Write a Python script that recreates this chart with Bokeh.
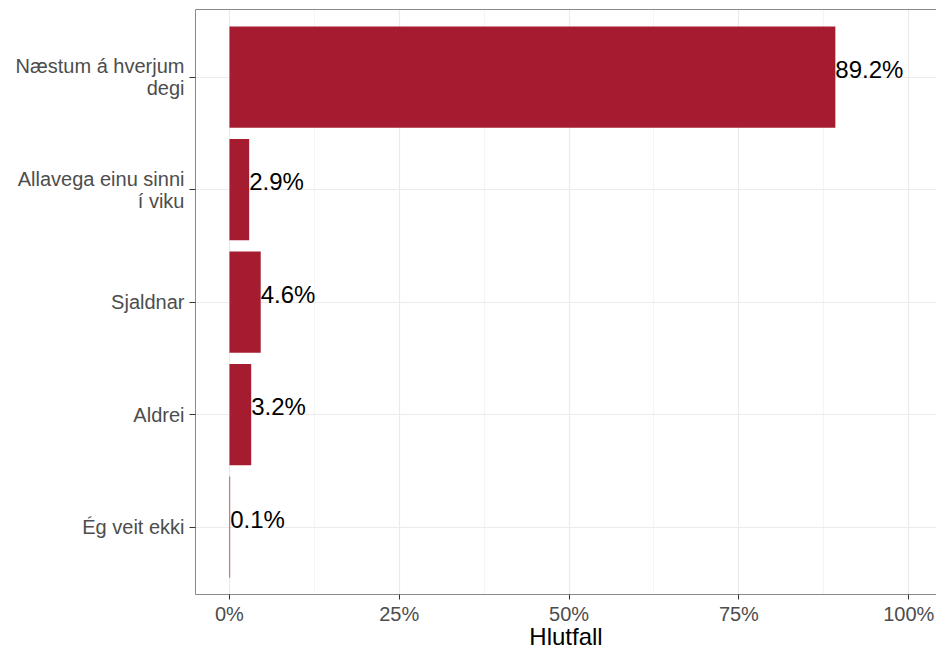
from bokeh.plotting import figure
from bokeh.models import FactorRange, Range1d, FixedTicker, LinearAxis, ColumnDataSource
from bokeh.embed import file_html
from bokeh.resources import INLINE

# data (top to bottom)
categories = ["Næstum á hverjum\ndegi", "Allavega einu sinni\ní viku", "Sjaldnar", "Aldrei", "Ég veit ekki"]
values = [89.2, 2.9, 4.6, 3.2, 0.1]
labels = ["89.2%", "2.9%", "4.6%", "3.2%", "0.1%"]
x_ticks = [0, 25, 50, 75, 100]
x_tick_labels = ["0%", "25%", "50%", "75%", "100%"]
x_minor = [12.5, 37.5, 62.5, 87.5]

FONT = "Liberation Sans"
BAR = "#A51C30"

factors = list(reversed(categories))
src = ColumnDataSource(dict(cat=categories, val=values, lab=labels))

p = figure(width=936, height=652, output_backend="svg", toolbar_location=None,
           y_range=FactorRange(factors=factors, range_padding=0.1, range_padding_units="absolute"),
           x_range=Range1d(-5, 104.09),
           min_border_left=195, min_border_right=0, min_border_top=9, min_border_bottom=0)
p.outline_line_color = None
p.background_fill_color = "white"
p.border_fill_color = "white"

p.hbar(y="cat", right="val", left=0, height=0.9, source=src, fill_color=BAR, line_color=None)
p.text(x="val", y="cat", text="lab", source=src, text_align="left", text_baseline="alphabetic",
       y_offset=-8, text_font_size="24px", text_color="black", text_font={"value": FONT})

# x axis
xa = p.xaxis[0]
xa.ticker = FixedTicker(ticks=x_ticks, minor_ticks=x_minor)
xa.major_label_overrides = {t: l for t, l in zip(x_ticks, x_tick_labels)}
xa.axis_label = "Hlutfall"
xa.axis_label_text_font = FONT
xa.axis_label_text_font_size = "24px"
xa.axis_label_text_font_style = "normal"
xa.axis_label_text_color = "black"
xa.axis_label_text_line_height = 1.0
xa.axis_label_standoff = -5
xa.major_label_text_font = FONT
xa.major_label_text_font_size = "20px"
xa.major_label_text_color = "#4D4D4D"
xa.major_label_text_line_height = 1.0
xa.major_label_standoff = 3
xa.major_tick_out = 5
xa.major_tick_in = 0
xa.minor_tick_out = 0
xa.minor_tick_in = 0
xa.major_tick_line_color = "#333333"
xa.axis_line_color = "#8A8A8A"

# y axis
ya = p.yaxis[0]
ya.major_label_text_font = FONT
ya.major_label_text_font_size = "20px"
ya.major_label_text_color = "#4D4D4D"
ya.major_label_text_line_height = 1.0
ya.major_label_standoff = 5
ya.major_tick_out = 6
ya.major_tick_in = 0
ya.major_tick_line_color = "#333333"
ya.axis_line_color = "#8A8A8A"

# top border
top = LinearAxis(ticker=FixedTicker(ticks=[]), major_label_text_font_size="0px",
                 major_tick_out=0, major_tick_in=0, minor_tick_out=0, minor_tick_in=0,
                 major_label_standoff=0, axis_line_color="#8A8A8A")
p.add_layout(top, "above")

# grids
p.xgrid.grid_line_color = "#EBEBEB"
p.xgrid.grid_line_width = 1.2
p.xgrid.minor_grid_line_color = "#F1F1F1"
p.xgrid.minor_grid_line_width = 0.8
p.ygrid.grid_line_color = "#EBEBEB"
p.ygrid.grid_line_width = 1.2

open("out.html", "w").write(file_html(p, INLINE))
